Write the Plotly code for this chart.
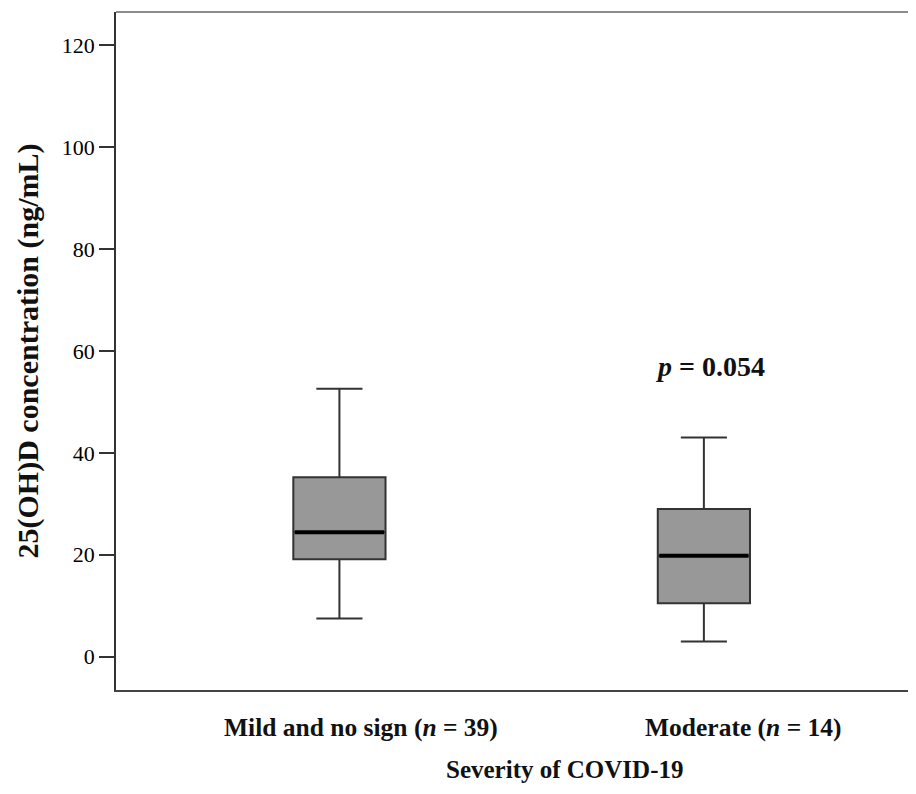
import plotly.graph_objects as go

# ---- data ----
categories = ["Mild and no sign (<i>n</i> = 39)", "Moderate (<i>n</i> = 14)"]
lower_whisker = [7.5, 3.0]
q1_values = [19.1, 10.5]
median_values = [24.4, 19.8]
q3_values = [35.2, 29.0]
upper_whisker = [52.6, 43.0]
y_tick_values = [0, 20, 40, 60, 80, 100, 120]
p_text = "<i>p</i> = 0.054"
p_text_y = 57
x_title = "Severity of COVID-19"
y_title = "25(OH)D concentration (ng/mL)"

# ---- style ----
FONT = "Liberation Serif"
BOX_W = 0.253
LINE_COL = "#333333"
FILL_COL = "#989898"
label_xshift = [22, 40]

xpos = list(range(len(categories)))

fig = go.Figure()
for i, x in enumerate(xpos):
    fig.add_trace(go.Box(
        x=[x], q1=[q1_values[i]], median=[median_values[i]], q3=[q3_values[i]],
        lowerfence=[lower_whisker[i]], upperfence=[upper_whisker[i]],
        width=BOX_W, whiskerwidth=0.5,
        fillcolor=FILL_COL, line=dict(color=LINE_COL, width=2),
        boxpoints=False, showlegend=False, hoverinfo="skip",
    ))
    # thicker black median line
    fig.add_trace(go.Scatter(
        x=[x - BOX_W / 2 + 0.004, x + BOX_W / 2 - 0.004],
        y=[median_values[i], median_values[i]],
        mode="lines", line=dict(color="black", width=4),
        showlegend=False, hoverinfo="skip",
    ))
    fig.add_annotation(
        x=x, y=0, xref="x", yref="paper", yanchor="top", yshift=-21,
        xshift=label_xshift[i], text="<b>" + categories[i] + "</b>",
        showarrow=False, font=dict(family=FONT, size=25.5, color="#111"),
    )

fig.add_annotation(
    x=xpos[1], y=p_text_y, xref="x", yref="y", xshift=7,
    text="<b>" + p_text + "</b>", showarrow=False,
    font=dict(family=FONT, size=28, color="#111"),
)

fig.add_annotation(
    x=0.56, y=0, xref="paper", yref="paper", yanchor="top", yshift=-64,
    text="<b>" + x_title + "</b>", showarrow=False,
    font=dict(family=FONT, size=25, color="#111"),
)

# top frame line (no right border in the reference)
fig.add_shape(type="line", xref="paper", yref="paper", x0=0, x1=1, y0=1, y1=1,
              line=dict(color="#666", width=1.5))

# page body has an 8px margin: figure is sized/offset to compensate
fig.update_layout(
    width=908, height=778,
    margin=dict(l=108, r=0, t=4, b=96),
    paper_bgcolor="white", plot_bgcolor="white",
    font=dict(family=FONT, color="#111"),
)
fig.update_xaxes(
    range=[-0.613, 1.582], showgrid=False, zeroline=False,
    showline=True, linecolor="#444", linewidth=1.5, mirror=False,
    showticklabels=False, ticks="",
)
fig.update_yaxes(
    range=[-6.53, 126.5], tickvals=y_tick_values, showgrid=False, zeroline=False,
    showline=True, linecolor=LINE_COL, linewidth=1.5, mirror=False,
    ticks="outside", ticklen=15, tickwidth=1.5, tickcolor=LINE_COL,
    tickfont=dict(family=FONT, size=22, color="#000"),
    title=dict(text="<b>" + y_title + "</b>", standoff=14,
               font=dict(family=FONT, size=30, color="#111")),
)

fig.write_html("out.html")
